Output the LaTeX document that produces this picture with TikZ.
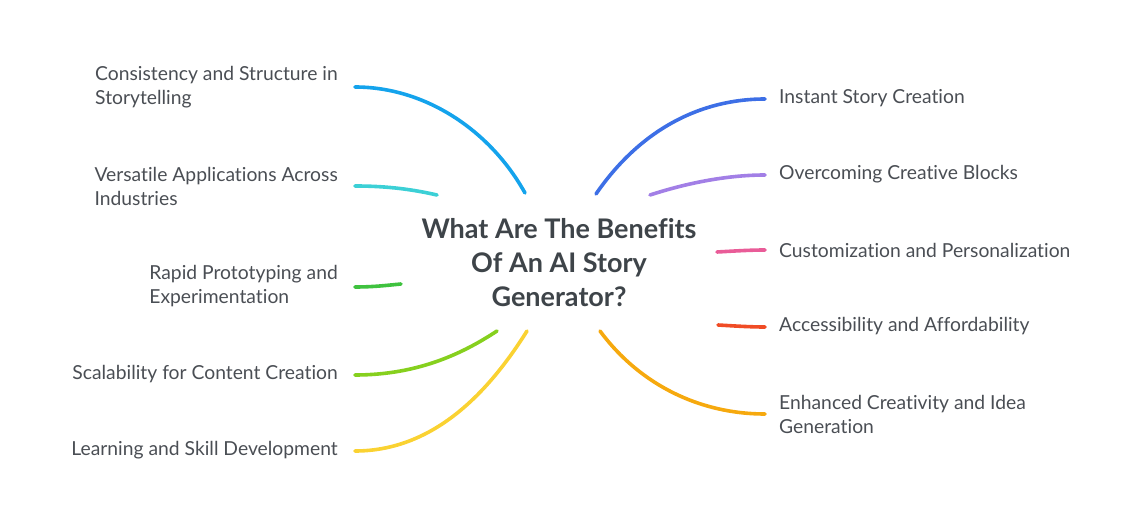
\documentclass[tikz,border=0pt]{standalone}
\usepackage{fontspec}
\setmainfont{Lato}[Ligatures=NoCommon]
\definecolor{txt}{HTML}{4A4E54}
\definecolor{ttl}{HTML}{3E4449}
\definecolor{cA}{HTML}{14A3EC}
\definecolor{cB}{HTML}{3CD0D6}
\definecolor{cC}{HTML}{3FC23F}
\definecolor{cD}{HTML}{86D01E}
\definecolor{cE}{HTML}{FAD232}
\definecolor{cF}{HTML}{3D6FE6}
\definecolor{cG}{HTML}{A27FE6}
\definecolor{cH}{HTML}{E95C98}
\definecolor{cI}{HTML}{F04C25}
\definecolor{cJ}{HTML}{F6A90E}
\tikzset{
  lbl/.style={text=txt,font=\fontsize{19.3}{24}\selectfont,inner sep=0pt,align=left},
  lleft/.style={lbl,anchor=east},
  lright/.style={lbl,anchor=west},
  branch/.style={line width=3.6pt,line cap=round},
}
\begin{document}
\begin{tikzpicture}[x=1pt,y=-1pt]
\useasboundingbox (0,0) rectangle (1136,526);
\node[text=ttl,font=\bfseries\fontsize{27}{34}\selectfont,align=center,inner sep=0pt] (title) at (559,263) {What Are The Benefits\\Of An AI Story\\Generator?};

\node[lleft] (l1) at (338,87) {Consistency and Structure in\\Storytelling};
\node[lleft] (l2) at (338,186) {Versatile Applications Across\\Industries};
\node[lleft] (l3) at (338,286) {Rapid Prototyping and\\Experimentation};
\node[lleft] (l4) at (338,374) {Scalability for Content Creation};
\node[lleft] (l5) at (338,450) {Learning and Skill Development};
\node[lright] (r1) at (779,98) {Instant Story Creation};
\node[lright] (r2) at (779,174) {Overcoming Creative Blocks};
\node[lright] (r3) at (779,250) {Customization and Personalization};
\node[lright] (r4) at (779,326) {Accessibility and Affordability};
\node[lright] (r5) at (779,414) {Enhanced Creativity and Idea\\Generation};

\coordinate (a1) at (355,87);  \coordinate (b1) at (525,193);
\coordinate (a2) at (355,186); \coordinate (b2) at (437,195);
\coordinate (a3) at (355,287); \coordinate (b3) at (401,284);
\coordinate (a4) at (355,375); \coordinate (b4) at (497,331);
\coordinate (a5) at (355,451); \coordinate (b5) at (527,331);
\coordinate (c1) at (765,99);  \coordinate (d1) at (596,194);
\coordinate (c2) at (765,175); \coordinate (d2) at (650,195);
\coordinate (c3) at (765,250); \coordinate (d3) at (717,252);
\coordinate (c4) at (765,327); \coordinate (d4) at (718,325);
\coordinate (c5) at (765,414); \coordinate (d5) at (600,331);

\draw[branch,cA] (a1) .. controls (425,87) and (490,130) .. (b1);
\draw[branch,cB] (a2) .. controls (390,186) and (415,190) .. (b2);
\draw[branch,cC] (a3) .. controls (375,287) and (390,285) .. (b3);
\draw[branch,cD] (a4) .. controls (420,375) and (465,352) .. (b4);
\draw[branch,cE] (a5) .. controls (435,451) and (490,390) .. (b5);
\draw[branch,cF] (d1) .. controls (640,130) and (700,99) .. (c1);
\draw[branch,cG] (d2) .. controls (690,182) and (730,175) .. (c2);
\draw[branch,cH] (d3) .. controls (735,251) and (750,250) .. (c3);
\draw[branch,cI] (d4) .. controls (735,326) and (750,327) .. (c4);
\draw[branch,cJ] (d5) .. controls (640,385) and (700,414) .. (c5);
\end{tikzpicture}
\end{document}
